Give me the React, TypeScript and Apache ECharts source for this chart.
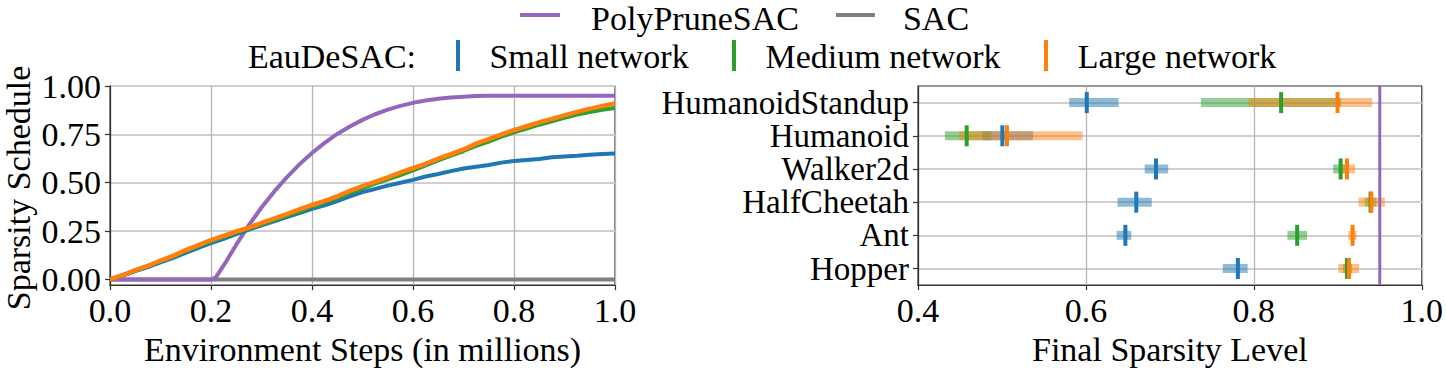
import React, { useEffect, useRef } from 'react';
import * as echarts from 'echarts';

const FONT = '"Liberation Serif", "Times New Roman", Times, serif';
const FS = 34;
const FS_ENV = 33;

const BLUE = '#1f77b4';
const GREEN = '#2ca02c';
const ORANGE = '#ff7f0e';
const PURPLE = '#9467bd';
const GRAY = '#7f7f7f';

// ---------- Left panel: sparsity schedule over training ----------
const steps = [
  0, 0.025, 0.05, 0.075, 0.1, 0.125, 0.15, 0.175, 0.2, 0.225, 0.25, 0.275, 0.3, 0.325, 0.35, 0.375,
  0.4, 0.425, 0.45, 0.475, 0.5, 0.525, 0.55, 0.575, 0.6, 0.625, 0.65, 0.675, 0.7, 0.725, 0.75, 0.775,
  0.8, 0.825, 0.85, 0.875, 0.9, 0.925, 0.95, 0.975, 1.0,
];
const smallNet = [
  0, 0.02, 0.043, 0.064, 0.088, 0.112, 0.138, 0.163, 0.188, 0.21, 0.235, 0.258, 0.28, 0.3, 0.322, 0.343,
  0.365, 0.383, 0.405, 0.43, 0.452, 0.468, 0.485, 0.5, 0.515, 0.532, 0.545, 0.56, 0.574, 0.583, 0.592, 0.604,
  0.612, 0.618, 0.623, 0.632, 0.636, 0.64, 0.645, 0.649, 0.651,
];
const mediumNet = [
  0, 0.022, 0.046, 0.07, 0.095, 0.12, 0.147, 0.172, 0.198, 0.22, 0.243, 0.263, 0.285, 0.308, 0.33, 0.353,
  0.376, 0.398, 0.422, 0.448, 0.472, 0.495, 0.518, 0.54, 0.564, 0.59, 0.615, 0.64, 0.664, 0.69, 0.713, 0.738,
  0.76, 0.78, 0.8, 0.818, 0.835, 0.852, 0.866, 0.877, 0.886,
];
const largeNet = [
  0, 0.022, 0.048, 0.07, 0.098, 0.122, 0.152, 0.178, 0.204, 0.226, 0.248, 0.268, 0.292, 0.315, 0.338, 0.362,
  0.385, 0.406, 0.43, 0.458, 0.482, 0.505, 0.528, 0.553, 0.575, 0.598, 0.625, 0.648, 0.672, 0.702, 0.725, 0.75,
  0.772, 0.792, 0.812, 0.83, 0.848, 0.866, 0.882, 0.897, 0.91,
];
const polySteps = [
  0, 0.2, 0.21, 0.23, 0.25, 0.275, 0.3, 0.325, 0.35, 0.375, 0.4, 0.425, 0.45, 0.475, 0.5, 0.525, 0.55,
  0.575, 0.6, 0.625, 0.65, 0.675, 0.7, 0.725, 0.75, 0.8, 1.0,
];
const polyVals = [
  0, 0, 0.012, 0.093, 0.18, 0.281, 0.372, 0.454, 0.528, 0.595, 0.654, 0.706, 0.752, 0.791, 0.825, 0.854, 0.878,
  0.897, 0.913, 0.925, 0.934, 0.941, 0.945, 0.948, 0.949, 0.95, 0.95,
];
const sacSteps = [0, 1.0];
const sacVals = [0, 0];
const leftYTicks = [0, 0.25, 0.5, 0.75, 1.0];

// ---------- Right panel: final sparsity per environment ----------
const envs = ['Hopper', 'Ant', 'HalfCheetah', 'Walker2d', 'Humanoid', 'HumanoidStandup'];
const smallMean = [0.781, 0.647, 0.66, 0.6835, 0.5005, 0.601];
const smallLo = [0.763, 0.6365, 0.6376, 0.67, 0.477, 0.58];
const smallHi = [0.7926, 0.654, 0.6784, 0.698, 0.537, 0.639];
const mediumMean = [0.911, 0.8516, 0.939, 0.9034, 0.458, 0.8325];
const mediumLo = [0.906, 0.84, 0.932, 0.8945, 0.432, 0.737];
const mediumHi = [0.917, 0.8634, 0.946, 0.912, 0.4875, 0.904];
const largeMean = [0.9133, 0.9176, 0.94, 0.911, 0.506, 0.8997];
const largeLo = [0.9006, 0.9125, 0.9247, 0.902, 0.449, 0.794];
const largeHi = [0.9255, 0.9224, 0.956, 0.9206, 0.596, 0.941];
const polyFinal = 0.95;
const envTicks = [0, 1, 2, 3, 4, 5];

const pairs = (xs: number[], ys: number[]) => xs.map((x, i) => [x, ys[i]]);

const rgba = (hex: string, a: number) => {
  const n = parseInt(hex.slice(1), 16);
  return `rgba(${(n >> 16) & 255},${(n >> 8) & 255},${n & 255},${a})`;
};

const rangeSeries = (name: string, color: string, means: number[], los: number[], his: number[]) => ({
  type: 'custom',
  name: name + ' range',
  xAxisIndex: 1,
  yAxisIndex: 1,
  z: 3,
  data: envs.map((_, i) => [means[i], i, los[i], his[i]]),
  encode: { x: [0, 2, 3], y: 1 },
  renderItem: (_p: any, api: any) => {
    const y = api.value(1);
    const a = api.coord([api.value(2), y]);
    const b = api.coord([api.value(3), y]);
    return {
      type: 'rect',
      shape: { x: a[0], y: a[1] - 4.5, width: b[0] - a[0], height: 9 },
      style: { fill: rgba(color, 0.5) },
    };
  },
});

const meanSeries = (name: string, color: string, means: number[]) => ({
  type: 'custom',
  name,
  xAxisIndex: 1,
  yAxisIndex: 1,
  z: 4,
  data: envs.map((_, i) => [means[i], i]),
  encode: { x: 0, y: 1 },
  renderItem: (_p: any, api: any) => {
    const p = api.coord([api.value(0), api.value(1)]);
    return {
      type: 'rect',
      shape: { x: p[0] - 2, y: p[1] - 10.5, width: 4, height: 21 },
      style: { fill: color },
    };
  },
});

const txt = { fontFamily: FONT, fontSize: FS, color: '#000' };
const AXIS_COLOR = '#333';

export default function App() {
  const ref = useRef<HTMLDivElement>(null);

  useEffect(() => {
    if (!ref.current) return;
    const chart = echarts.init(ref.current, null, { renderer: 'svg' });

    const lineS = (name: string, color: string, data: number[][], z: number, w = 4) => ({
      type: 'line',
      name,
      xAxisIndex: 0,
      yAxisIndex: 0,
      data,
      showSymbol: false,
      symbol: 'none',
      z,
      lineStyle: { color, width: w },
      itemStyle: { color },
    });

    const legendText = (text: string, cx: number, cy: number) => ({
      type: 'text',
      x: cx,
      y: cy,
      style: { text, font: `${FS}px ${FONT}`, fill: '#000', textAlign: 'center', textVerticalAlign: 'middle' },
    });
    const hLine = (x1: number, x2: number, y: number, color: string) => ({
      type: 'line',
      shape: { x1, y1: y, x2, y2: y },
      style: { stroke: color, lineWidth: 4 },
    });
    const vLine = (x: number, y1: number, y2: number, color: string) => ({
      type: 'line',
      shape: { x1: x, y1, x2: x, y2 },
      style: { stroke: color, lineWidth: 4 },
    });

    chart.setOption({
      animation: false,
      textStyle: { fontFamily: FONT },
      grid: [
        { left: 110, top: 86, width: 505, height: 204, show: true, borderColor: AXIS_COLOR, borderWidth: 1.2, backgroundColor: 'transparent' },
        { left: 918, top: 86, width: 506, height: 204, show: true, borderColor: AXIS_COLOR, borderWidth: 1.2, backgroundColor: 'transparent' },
      ],
      xAxis: [
        {
          type: 'value', gridIndex: 0, min: 0, max: 1, interval: 0.2,
          name: 'Environment Steps (in millions)', nameLocation: 'middle', nameGap: 43,
          nameTextStyle: { ...txt },
          axisLine: { show: true, onZero: false, lineStyle: { color: AXIS_COLOR, width: 1.2 } },
          axisTick: { show: true, length: 5, lineStyle: { color: AXIS_COLOR, width: 1.2 } },
          axisLabel: { ...txt, margin: 8, showMinLabel: true, showMaxLabel: true, formatter: (v: number) => v.toFixed(1) },
          splitLine: { show: true, lineStyle: { color: '#b4b4b4', width: 1.3 } },
        },
        {
          type: 'value', gridIndex: 1, min: 0.4, max: 1, interval: 0.2,
          name: 'Final Sparsity Level', nameLocation: 'middle', nameGap: 43,
          nameTextStyle: { ...txt },
          axisLine: { show: true, onZero: false, lineStyle: { color: AXIS_COLOR, width: 1.2 } },
          axisTick: { show: true, length: 5, lineStyle: { color: AXIS_COLOR, width: 1.2 } },
          axisLabel: { ...txt, margin: 8, showMinLabel: true, showMaxLabel: true, formatter: (v: number) => v.toFixed(1) },
          splitLine: { show: true, lineStyle: { color: '#b4b4b4', width: 1.3 } },
        },
      ],
      yAxis: [
        {
          type: 'value', gridIndex: 0, min: -0.029, max: 1,
          axisLine: { show: true, onZero: false, lineStyle: { color: AXIS_COLOR, width: 1.2 } },
          axisTick: { show: true, length: 5, customValues: leftYTicks, lineStyle: { color: AXIS_COLOR, width: 1.2 } },
          axisLabel: { ...txt, margin: 9, showMinLabel: true, showMaxLabel: true, customValues: leftYTicks, formatter: (v: number) => v.toFixed(2) },
          splitLine: { show: true, lineStyle: { color: '#cfcfcf', width: 2 } },
        },
        {
          type: 'value', gridIndex: 1, min: -0.5, max: 5.5,
          axisLine: { show: true, onZero: false, lineStyle: { color: AXIS_COLOR, width: 1.2 } },
          axisTick: { show: true, length: 5, customValues: envTicks, lineStyle: { color: AXIS_COLOR, width: 1.2 } },
          axisLabel: {
            ...txt, fontSize: FS_ENV, lineHeight: 30, margin: 9, hideOverlap: false, showMinLabel: true, showMaxLabel: true,
            customValues: envTicks, formatter: (v: number) => envs[Math.round(v)] ?? '',
          },
          splitLine: { show: true, lineStyle: { color: '#cfcfcf', width: 2 } },
        },
      ],
      graphic: [
        {
          type: 'text',
          x: 18,
          y: 188,
          rotation: Math.PI / 2,
          style: { text: 'Sparsity Schedule', font: `${FS}px ${FONT}`, fill: '#000', textAlign: 'center', textVerticalAlign: 'middle' },
        },
        hLine(520, 560, 15, PURPLE),
        legendText('PolyPruneSAC', 695, 18),
        hLine(836, 875, 15, GRAY),
        legendText('SAC', 936, 18),
        legendText('EauDeSAC:', 332, 56),
        vLine(458, 40, 71, BLUE),
        legendText('Small network', 589, 56),
        vLine(734, 40, 71, GREEN),
        legendText('Medium network', 883, 56),
        vLine(1046, 40, 71, ORANGE),
        legendText('Large network', 1177, 56),
      ],
      series: [
        lineS('SAC', GRAY, pairs(sacSteps, sacVals), 2),
        lineS('PolyPruneSAC', PURPLE, pairs(polySteps, polyVals), 3),
        lineS('Small network', BLUE, pairs(steps, smallNet), 4),
        lineS('Medium network', GREEN, pairs(steps, mediumNet), 5),
        lineS('Large network', ORANGE, pairs(steps, largeNet), 6, 4.5),
        rangeSeries('Small network', BLUE, smallMean, smallLo, smallHi),
        rangeSeries('Medium network', GREEN, mediumMean, mediumLo, mediumHi),
        rangeSeries('Large network', ORANGE, largeMean, largeLo, largeHi),
        meanSeries('Small network mean', BLUE, smallMean),
        meanSeries('Medium network mean', GREEN, mediumMean),
        meanSeries('Large network mean', ORANGE, largeMean),
        {
          type: 'line',
          name: 'PolyPruneSAC final',
          xAxisIndex: 1,
          yAxisIndex: 1,
          data: [[polyFinal, -0.5], [polyFinal, 5.5]],
          showSymbol: false,
          symbol: 'none',
          z: 6,
          lineStyle: { color: PURPLE, width: 3 },
        },
      ],
    });

    return () => chart.dispose();
  }, []);

  return (
    <div
      ref={ref}
      style={{ position: 'absolute', left: 0, top: 0, width: 1446, height: 371 }}
    />
  );
}
